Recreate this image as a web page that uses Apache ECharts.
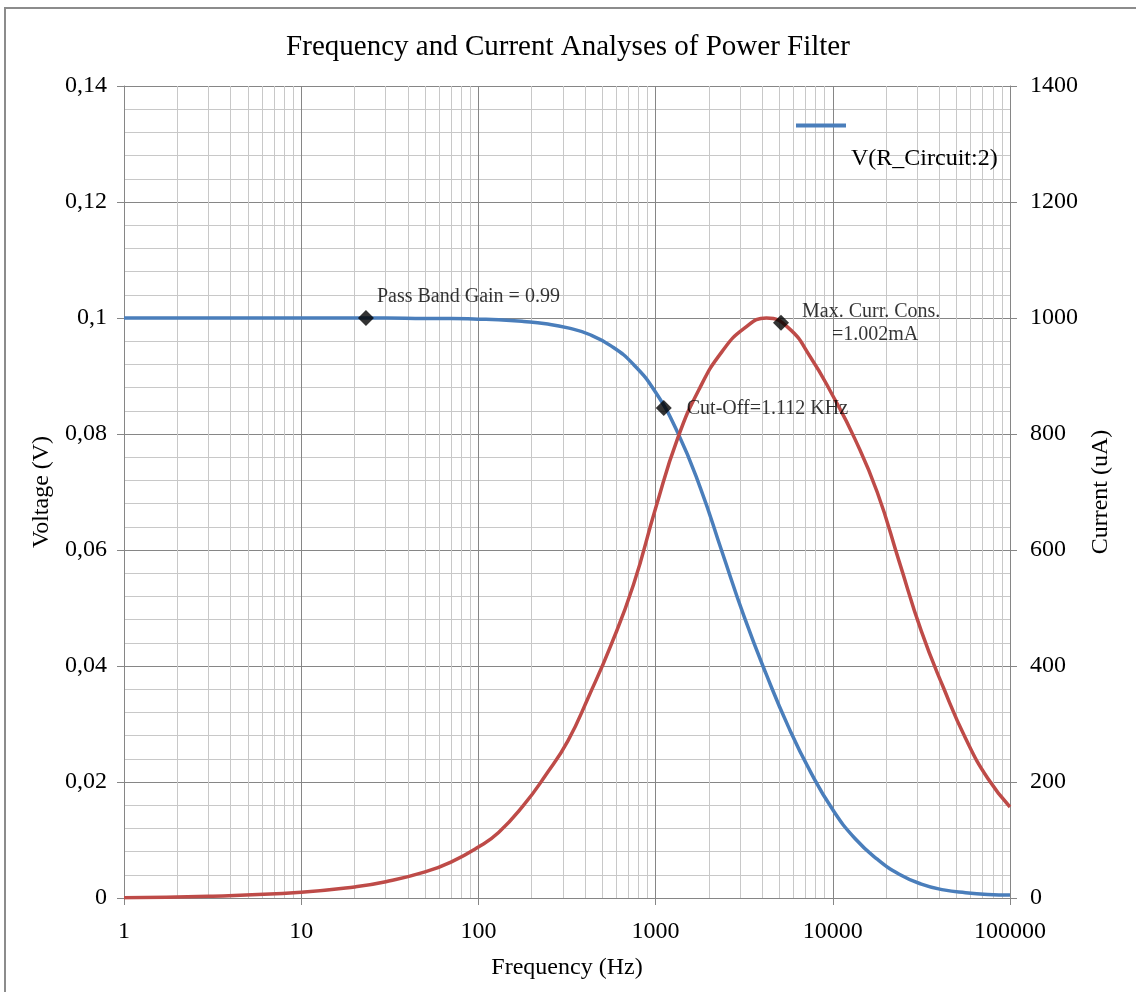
<!DOCTYPE html>
<html lang="en">
<head>
  <meta charset="UTF-8">
  <title>Frequency and Current Analyses of Power Filter</title>
  <script src="https://cdn.jsdelivr.net/npm/echarts@6/dist/echarts.min.js"></script>
</head>
<body style="margin:0">
  <div id="main" style="width: 1136px;height:992px;"></div>
</body>
<script type="text/javascript">
// values (frequency in Hz)
var freq = [1, 3, 10, 20, 30, 50, 70, 100, 130, 180, 240, 320, 420, 560, 750, 1000, 1330, 1780, 2370, 3160, 4220, 5620, 7500, 10000, 13300, 17800, 23700, 31600, 42200, 56200, 75000, 100000];
var voltValue = [0.1, 0.1, 0.1, 0.1, 0.1, 0.0999, 0.0999, 0.0998, 0.0997, 0.0994, 0.0990, 0.0983, 0.0972, 0.0952, 0.0920, 0.0872, 0.0803, 0.0709, 0.0597, 0.0485, 0.0385, 0.0295, 0.0217, 0.0152, 0.0103, 0.0067, 0.0041, 0.0024, 0.0014, 0.0009, 0.0006, 0.0005];
var currValue = [0.5, 3, 10, 19, 28, 45, 62, 88, 113, 160, 212, 271, 348, 436, 540, 672, 792, 880, 942, 982, 1000, 983, 932, 866, 792, 700, 580, 460, 362, 275, 206, 157];

var markFreq = [23.2, 1112];
var markVolt = [0.1, 0.0845];
var markText = ['Pass Band Gain = 0.99', 'Cut-Off=1.112 KHz'];
var peakFreq = 5100;
var peakCurr = 992;

var vName = 'V(R_Circuit:2)';
var serif = "'Liberation Serif', 'Times New Roman', serif";

function pairs(xs, ys) {
  return xs.map(function (x, i) { return [x, ys[i]]; });
}

// minor log gridlines 2..9 per decade
var minorX = [];
[1, 10, 100, 1000, 10000].forEach(function (d) {
  for (var k = 2; k <= 9; k++) minorX.push({xAxis: d * k});
});

var app = echarts.init(document.getElementById('main'));

var option = {
  animation: false,
  backgroundColor: '#fff',
  title: {
    text: 'Frequency and Current Analyses of Power Filter',
    left: 'center',
    top: 33,
    padding: 0,
    textStyle: {fontFamily: serif, fontSize: 29, fontWeight: 'normal', color: '#000'}
  },
  legend: {
    data: [{name: vName, icon: 'rect'}],
    left: 791,
    top: 71,
    itemWidth: 50,
    itemHeight: 4,
    formatter: function (name) { return '\n\n' + name; },
    textStyle: {fontFamily: serif, fontSize: 24, color: '#000', lineHeight: 33}
  },
  graphic: [{
    type: 'rect',
    shape: {x: 5, y: 8, width: 1140, height: 1000},
    style: {fill: 'none', stroke: '#8c8c8c', lineWidth: 2},
    silent: true
  }],
  grid: {left: 124, right: 126, top: 86, bottom: 94},
  xAxis: {
    type: 'log',
    logBase: 10,
    min: 1,
    max: 100000,
    name: 'Frequency (Hz)',
    nameLocation: 'middle',
    nameGap: 58,
    nameTextStyle: {fontFamily: serif, fontSize: 24, color: '#000'},
    axisLine: {lineStyle: {color: '#868686', width: 1}},
    axisTick: {show: true, length: 7, lineStyle: {color: '#868686'}},
    axisLabel: {
      fontFamily: serif, fontSize: 24, color: '#000', margin: 22,
      formatter: function (v) { return String(Math.round(v)); }
    },
    splitLine: {show: true, lineStyle: {color: '#868686', width: 1}}
  },
  yAxis: [{
    type: 'value',
    min: 0,
    max: 0.14,
    interval: 0.02,
    name: 'Voltage (V)',
    nameLocation: 'middle',
    nameGap: 64,
    nameTextStyle: {fontFamily: serif, fontSize: 24, color: '#000'},
    axisLine: {show: true, lineStyle: {color: '#868686'}},
    axisTick: {show: true, length: 7, lineStyle: {color: '#868686'}},
    axisLabel: {
      fontFamily: serif, fontSize: 24, color: '#000', margin: 17,
      formatter: function (v) { return String(+v.toFixed(2)).replace('.', ','); }
    },
    splitLine: {lineStyle: {color: '#868686'}},
    minorTick: {show: false, splitNumber: 5},
    minorSplitLine: {show: true, lineStyle: {color: '#c8c8c8'}}
  }, {
    type: 'value',
    min: 0,
    max: 1400,
    interval: 200,
    name: 'Current (uA)',
    nameLocation: 'middle',
    nameGap: 78,
    nameTextStyle: {fontFamily: serif, fontSize: 24, color: '#000'},
    axisLine: {show: true, lineStyle: {color: '#868686'}},
    axisTick: {show: true, length: 7, lineStyle: {color: '#868686'}},
    axisLabel: {
      fontFamily: serif, fontSize: 24, color: '#000', margin: 20,
      formatter: function (v) { return String(v); }
    },
    splitLine: {show: false}
  }],
  series: [{
    name: vName,
    type: 'line',
    yAxisIndex: 0,
    smooth: 0.5,
    symbol: 'none',
    z: 3,
    color: '#4a7ebb',
    lineStyle: {width: 3.5, color: '#4a7ebb'},
    data: pairs(freq, voltValue),
    markLine: {
      silent: true,
      symbol: 'none',
      z: 1,
      label: {show: false},
      lineStyle: {color: '#c8c8c8', type: 'solid', width: 1},
      data: minorX
    }
  }, {
    name: 'Current',
    type: 'line',
    yAxisIndex: 1,
    smooth: 0.5,
    symbol: 'none',
    z: 3,
    color: '#be4b48',
    lineStyle: {width: 3.5, color: '#be4b48'},
    data: pairs(freq, currValue)
  }, {
    name: 'markers',
    type: 'scatter',
    yAxisIndex: 0,
    symbol: 'diamond',
    symbolSize: 16,
    z: 5,
    itemStyle: {color: '#000'},
    data: markFreq.map(function (f, i) {
      return {
        value: [f, markVolt[i]],
        label: {
          show: true,
          position: 'right',
          offset: i === 0 ? [-2, -21] : [10, 1],
          formatter: markText[i],
          fontFamily: serif, fontSize: 20, color: '#000'
        }
      };
    })
  }, {
    name: 'peak',
    type: 'scatter',
    yAxisIndex: 1,
    symbol: 'diamond',
    symbolSize: 16,
    z: 5,
    itemStyle: {color: '#000'},
    data: [{
      value: [peakFreq, peakCurr],
      label: {
        show: true,
        position: 'right',
        offset: [8, 1],
        align: 'left',
        formatter: 'Max. Curr. Cons.\n      =1.002mA',
        lineHeight: 23,
        fontFamily: serif, fontSize: 20, color: '#000'
      }
    }]
  }]
};

app.setOption(option);
</script>
</html>
